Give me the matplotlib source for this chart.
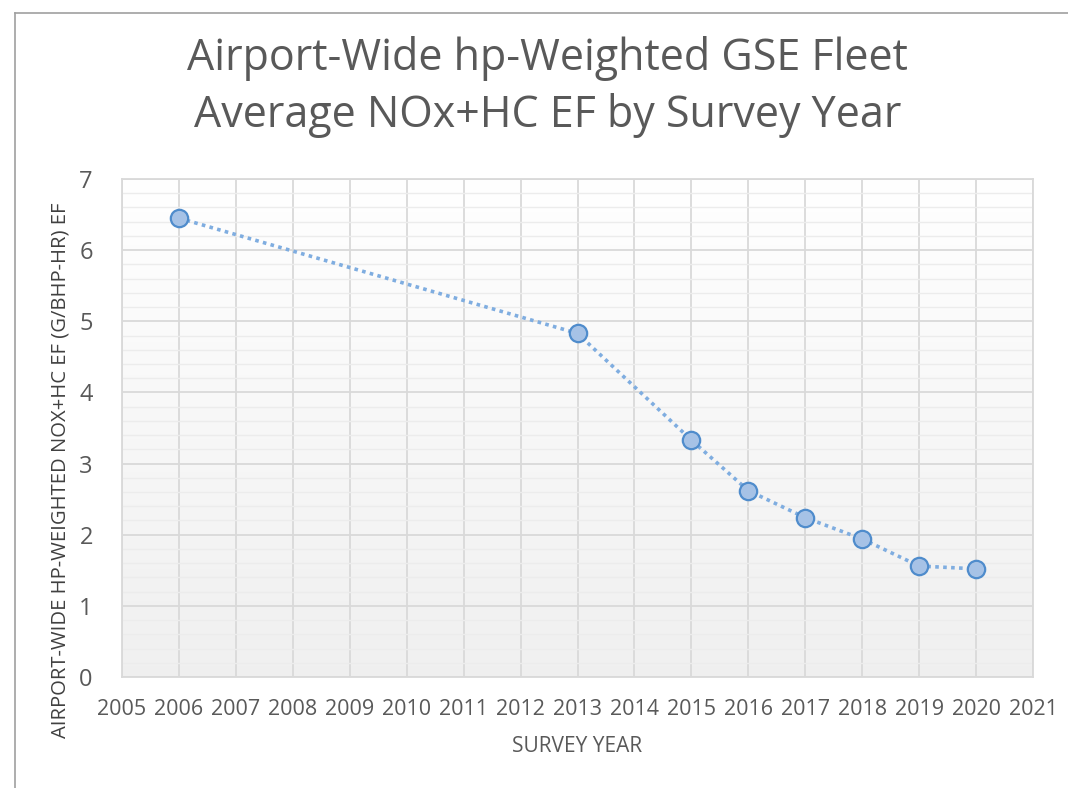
import matplotlib
matplotlib.use("Agg")
import matplotlib.pyplot as plt
import numpy as np
from matplotlib.ticker import MultipleLocator

years = [2006, 2013, 2015, 2016, 2017, 2018, 2019, 2020]
ef_values = [6.45, 4.83, 3.33, 2.62, 2.24, 1.94, 1.56, 1.52]
title = "Airport-Wide hp-Weighted GSE Fleet\nAverage NOx+HC EF by Survey Year"
xlabel = "SURVEY YEAR"
ylabel = "AIRPORT-WIDE HP-WEIGHTED NOX+HC EF (G/BHP-HR) EF"

plt.rcParams['font.family'] = ['Open Sans', 'DejaVu Sans']
fig = plt.figure(figsize=(10.68, 7.88), dpi=100)
ax = fig.add_axes([122/1068, 1-677/788, (1033-122)/1068, (677-179)/788])

# gradient background
grad = np.linspace(1.0, 0.94, 256).reshape(-1, 1)
ax.imshow(np.dstack([grad, grad, grad]), extent=[0, 1, 0, 1], transform=ax.transAxes,
          aspect='auto', zorder=0, interpolation='bilinear')

ax.set_xlim(2005, 2021)
ax.set_ylim(0, 7)
ax.xaxis.set_major_locator(MultipleLocator(1))
ax.yaxis.set_major_locator(MultipleLocator(1))
ax.yaxis.set_minor_locator(MultipleLocator(0.2))
ax.grid(which='major', color='#d9d9d9', linewidth=1.3, zorder=1)
ax.grid(which='minor', axis='y', color='#ececec', linewidth=1.0, zorder=1)
ax.set_axisbelow(True)
for s in ax.spines.values():
    s.set_color('#d9d9d9')
    s.set_linewidth(1.3)
ax.tick_params(which='both', length=0)
ax.tick_params(axis='x', labelsize=15.5, colors='#595959', pad=16)
ax.tick_params(axis='y', labelsize=17, colors='#595959', pad=21)
ax.set_xticks(range(2005, 2022))
ax.set_xticklabels([str(y) for y in range(2005, 2022)])

ax.plot(years, ef_values, linestyle=(0, (1, 1.2)), color='#7fade0', linewidth=2.6, zorder=3)
ax.plot(years, ef_values, linestyle='none', marker='o', markersize=12.5,
        markerfacecolor='#a6c2e6', markeredgecolor='#4f8ccc', markeredgewidth=1.6, zorder=4)

ax.set_xlabel(xlabel, fontsize=15, color='#595959', va='center')
ax.xaxis.set_label_coords((577.5-122)/911, (677-747)/498)
ax.set_ylabel(ylabel, fontsize=14.6, color='#404040', va='center')
ax.yaxis.set_label_coords((61-122)/911, (677-470)/498)

fig.text(0.513, 1-87/788, title, ha='center', va='center', fontsize=31,
         color='#595959', linespacing=1.33)

# outer frame
fig.add_artist(plt.Line2D([15/1068, 15/1068], [0, 1-13/788], color='#a0a0a0', linewidth=1.2))
fig.add_artist(plt.Line2D([15/1068, 1], [1-13/788, 1-13/788], color='#a0a0a0', linewidth=1.2))

fig.savefig("out.png", dpi=100, facecolor='white')
